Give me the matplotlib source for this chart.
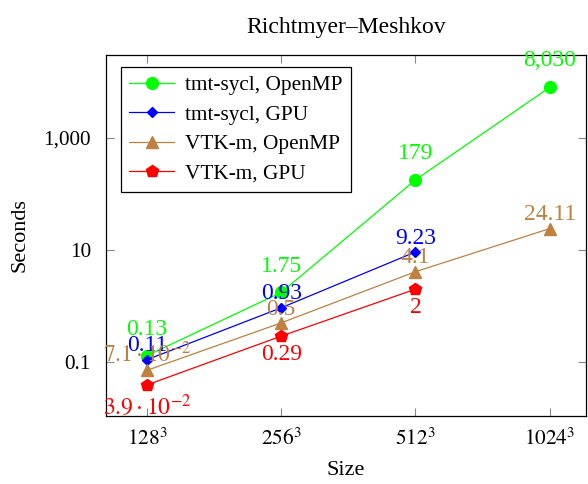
import matplotlib
matplotlib.use("Agg")
import matplotlib.pyplot as plt
from matplotlib.ticker import FixedLocator, FixedFormatter, NullLocator

plt.rcParams['font.family'] = ['Liberation Serif', 'DejaVu Serif']
plt.rcParams['mathtext.fontset'] = 'stix'

sizes = ['$128^3$', '$256^3$', '$512^3$', '$1024^3$']

sycl_omp = [0.13, 1.75, 179, 8030]
sycl_gpu = [0.11, 0.93, 9.23]
vtkm_omp = [0.071, 0.5, 4.1, 24.11]
vtkm_gpu = [0.039, 0.29, 2]

sycl_omp_lbl = ['0.13', '1.75', '179', '8,030']
sycl_gpu_lbl = ['0.11', '0.93', '9.23']
vtkm_omp_lbl = [r'$7.1\cdot10^{-2}$', '0.5', '4.1', '24.11']
vtkm_gpu_lbl = [r'$3.9\cdot10^{-2}$', '0.29', '2']

yticks = [0.1, 10, 1000]
ytick_lbl = ['0.1', '10', '1,000']

brown = '#bf8040'

def main():
    fig = plt.figure(figsize=(5.88, 4.84), dpi=100)
    ax = fig.add_axes([0.1803, 0.1405, 0.8163, 0.7459])

    series = [
        (sycl_omp, sycl_omp_lbl, '#00ff00', 'o', 8.5, 'tmt-sycl, OpenMP', 15, 'baseline'),
        (sycl_gpu, sycl_gpu_lbl, '#0000ff', 'D', 5.5, 'tmt-sycl, GPU', 6, 'baseline'),
        (vtkm_omp, vtkm_omp_lbl, brown, '^', 8, 'VTK-m, OpenMP', 6, 'baseline'),
        (vtkm_gpu, vtkm_gpu_lbl, '#ff0000', 'p', 9, 'VTK-m, GPU', -6, 'top'),
    ]

    for vals, lbls, col, mk, ms, name, dy, va in series:
        xs = list(range(len(vals)))
        ax.plot(xs, vals, color=col, marker=mk, markersize=ms, lw=0.9,
                label=name, zorder=3)
        for x, v, t in zip(xs, vals, lbls):
            ax.annotate(t, (x, v), xytext=(0, dy), textcoords='offset points',
                        ha='center', va=va, color=col, fontsize=17, zorder=4)

    ax.set_yscale('log')
    ax.set_xlim(-0.305, 3.27)
    ax.set_ylim(10 ** -1.964, 10 ** 4.482)

    ax.set_xticks(range(len(sizes)))
    ax.set_xticklabels(sizes)
    ax.yaxis.set_major_locator(FixedLocator(yticks))
    ax.yaxis.set_major_formatter(FixedFormatter(ytick_lbl))
    ax.yaxis.set_minor_locator(NullLocator())

    ax.tick_params(axis='both', which='major', direction='in', length=6,
                   width=0.8, color='#888888', top=True, right=True,
                   labelsize=15.3)
    ax.tick_params(axis='x', pad=9)
    ax.tick_params(axis='y', pad=11)
    for s in ax.spines.values():
        s.set_linewidth(0.9)

    ax.set_title('Richtmyer\u2013Meshkov', fontsize=17, pad=16)
    ax.set_xlabel('Size', fontsize=16, labelpad=8)
    ax.set_ylabel('Seconds', fontsize=16, labelpad=10)

    leg = ax.legend(loc='upper left', bbox_to_anchor=(0.031, 0.967),
                    fontsize=15.3, frameon=True, fancybox=False,
                    edgecolor='black', framealpha=1, borderaxespad=0,
                    handlelength=2.1, labelspacing=0.45, handletextpad=0.5,
                    borderpad=0.4)
    leg.get_frame().set_linewidth(0.9)
    leg.set_zorder(5)

    fig.savefig('out.png', dpi=100)

if __name__ == "__main__":
    main()
